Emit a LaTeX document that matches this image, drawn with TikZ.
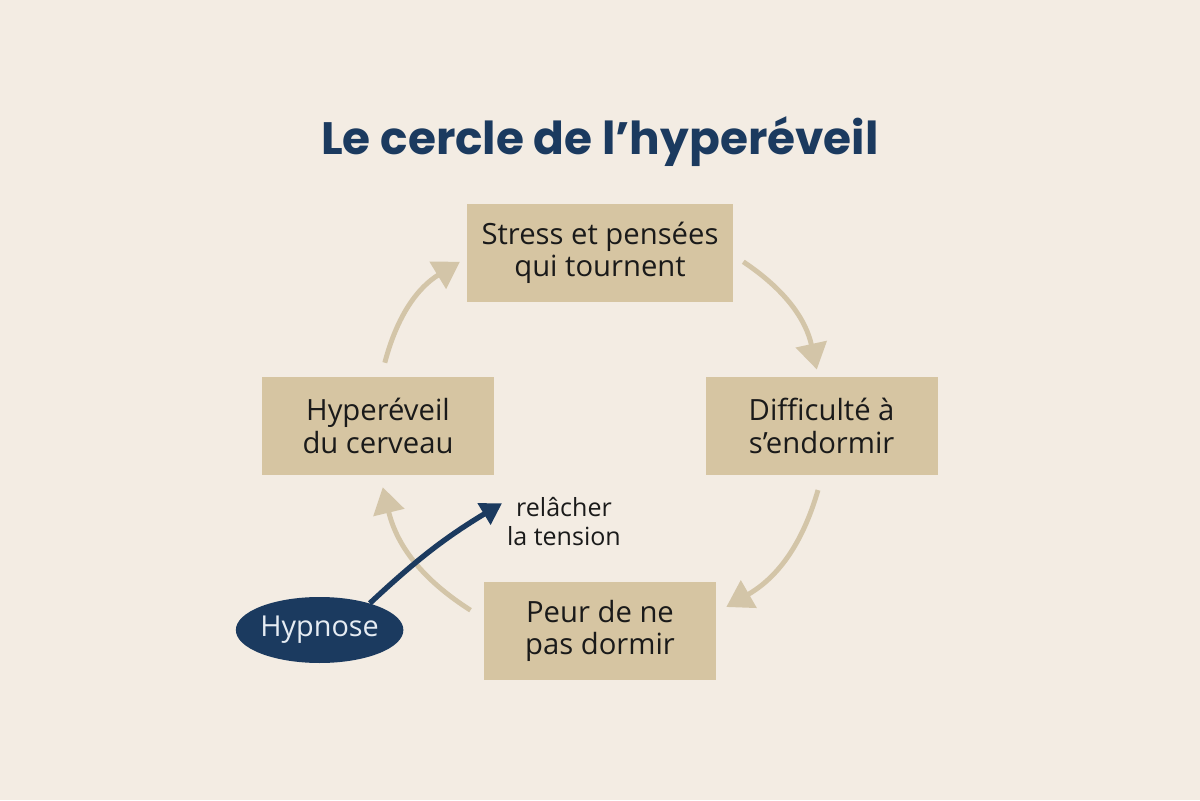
\documentclass[tikz,border=0pt]{standalone}
\usepackage{fontspec}
\setmainfont{Open Sans}
\newfontfamily\titlefont{Poppins}
\usetikzlibrary{arrows.meta,shapes.geometric}
\definecolor{ink}{HTML}{1A1A1A}
\definecolor{navy}{HTML}{1B3A5F}
\definecolor{sand}{HTML}{D6C5A2}
\definecolor{dust}{HTML}{D3C5A8}
\definecolor{paper}{HTML}{F3ECE3}
\definecolor{mist}{HTML}{E6ECF3}

\begin{document}
\begin{tikzpicture}[font=\fontsize{20.8}{23}\selectfont,text=ink,
  stage/.style={fill=sand,minimum width=5.8cm,minimum height=2.45cm,
    align=center,inner sep=0pt},
  loop/.style={dust,line width=3.5pt,
    -{Triangle[length=18.5pt,width=22pt]}},
  push/.style={navy,line width=3.8pt,
    -{Triangle[length=15pt,width=17pt]}}]
  \fill[paper] (0,0) rectangle (30,20);
  \node[font=\titlefont\bfseries\fontsize{32.3}{40}\selectfont,text=navy]
    (title) at (15,16.45) {Le cercle de l’hyperéveil};

  \node[stage,minimum width=6.65cm] (stress) at (15,13.675)
    {Stress et pensées\\qui tournent};
  \node[stage] (diff) at (20.54,9.35) {Difficulté à\\s’endormir};
  \node[stage] (peur) at (15,4.225) {Peur de ne\\pas dormir};
  \node[stage] (hyper) at (9.45,9.35) {Hyperéveil\\du cerveau};

  % the loop
  \draw[loop] ([shift={(0.25,-0.22)}]stress.east) to[bend left=22]
    ([shift={(-0.12,0.18)}]diff.north);
  \draw[loop] ([shift={(-0.09,-0.37)}]diff.south) to[bend left=22]
    ([shift={(0.25,0.6)}]peur.east);
  \draw[loop] ([shift={(-0.33,0.52)}]peur.west) to[bend left=22]
    ([shift={(0.12,-0.3)}]hyper.south);
  \draw[loop] ([shift={(0.17,0.35)}]hyper.north) to[bend left=22]
    ([shift={(-0.17,-0.22)}]stress.west);

  \node[ellipse,fill=navy,text=mist,minimum width=4.12cm,
        minimum height=1.65cm,inner sep=0pt,
        font=\fontsize{20.5}{24}\selectfont] (hyp) at (7.99,4.25) {Hypnose};
  \node[align=center,inner sep=0pt,font=\fontsize{17.8}{20.6}\selectfont]
    (tension) at (14.1,6.95) {relâcher\\la tension};
  \draw[push] (hyp.28) to[bend left=6]
    ([shift={(-0.12,0.47)}]tension.west);
\end{tikzpicture}
\end{document}
